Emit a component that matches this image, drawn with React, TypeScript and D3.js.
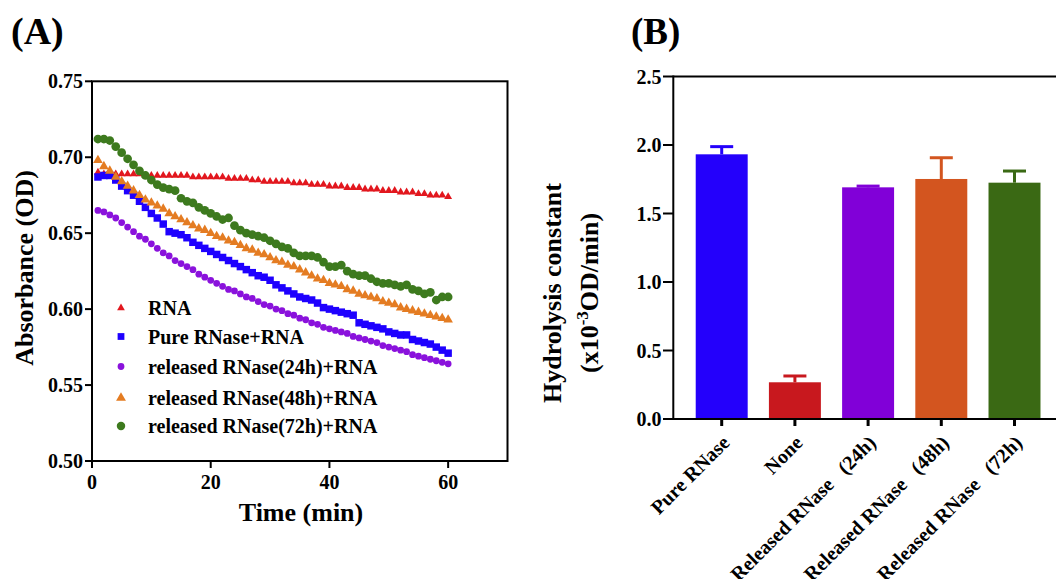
import React from "react";
import * as d3 from "d3";

// ---------- Panel A data ----------
const times = [1,2,3,4,5,6,7,8,9,10,11,12,13,14,15,16,17,18,19,20,21,22,23,24,25,26,27,28,29,30,31,32,33,34,35,36,37,38,39,40,41,42,43,44,45,46,47,48,49,50,51,52,53,54,55,56,57,58,59,60];
const rnaOnly = [0.690,0.689,0.689,0.689,0.689,0.689,0.689,0.689,0.688,0.688,0.688,0.688,0.688,0.688,0.688,0.688,0.687,0.687,0.687,0.687,0.687,0.687,0.686,0.686,0.686,0.686,0.685,0.685,0.684,0.684,0.684,0.684,0.684,0.683,0.683,0.683,0.682,0.682,0.682,0.681,0.681,0.681,0.680,0.680,0.680,0.679,0.679,0.679,0.678,0.678,0.678,0.677,0.677,0.677,0.676,0.676,0.675,0.675,0.675,0.674];
const pureRNase = [0.687,0.688,0.688,0.685,0.681,0.678,0.675,0.671,0.667,0.663,0.660,0.656,0.651,0.650,0.649,0.647,0.644,0.642,0.640,0.638,0.636,0.634,0.632,0.630,0.628,0.626,0.624,0.622,0.621,0.619,0.616,0.614,0.612,0.610,0.608,0.607,0.606,0.604,0.601,0.600,0.599,0.598,0.597,0.596,0.591,0.590,0.589,0.588,0.587,0.585,0.584,0.583,0.583,0.580,0.579,0.578,0.577,0.575,0.573,0.571];
const rel24 = [0.665,0.664,0.662,0.660,0.657,0.654,0.651,0.648,0.646,0.643,0.640,0.637,0.635,0.632,0.630,0.628,0.626,0.623,0.621,0.619,0.617,0.615,0.613,0.612,0.610,0.608,0.607,0.605,0.603,0.602,0.600,0.599,0.597,0.596,0.594,0.593,0.591,0.590,0.588,0.587,0.586,0.585,0.584,0.582,0.581,0.580,0.579,0.578,0.576,0.575,0.574,0.573,0.572,0.570,0.569,0.568,0.567,0.566,0.565,0.564];
const rel48 = [0.698,0.694,0.691,0.687,0.684,0.681,0.678,0.675,0.672,0.670,0.668,0.666,0.663,0.661,0.659,0.657,0.655,0.653,0.652,0.650,0.648,0.647,0.645,0.644,0.642,0.640,0.639,0.637,0.636,0.634,0.632,0.631,0.629,0.628,0.626,0.624,0.622,0.620,0.619,0.617,0.616,0.615,0.613,0.612,0.610,0.609,0.608,0.607,0.605,0.604,0.603,0.601,0.600,0.599,0.598,0.597,0.596,0.595,0.594,0.593];
const rel72 = [0.712,0.712,0.711,0.707,0.703,0.699,0.695,0.691,0.688,0.685,0.682,0.680,0.679,0.678,0.673,0.671,0.670,0.667,0.665,0.663,0.661,0.659,0.660,0.655,0.652,0.650,0.649,0.648,0.647,0.645,0.643,0.641,0.640,0.637,0.635,0.635,0.635,0.634,0.631,0.628,0.628,0.629,0.625,0.623,0.622,0.622,0.620,0.618,0.617,0.617,0.616,0.615,0.616,0.613,0.612,0.610,0.611,0.606,0.608,0.608];

const seriesNames = ["RNA", "Pure RNase+RNA", "released RNase(24h)+RNA", "released RNase(48h)+RNA", "released RNase(72h)+RNA"];
const xTicksA = [0, 20, 40, 60];
const yTicksA = [0.50, 0.55, 0.60, 0.65, 0.70, 0.75];

// ---------- Panel B data ----------
const categoriesB = ["Pure RNase", "None", "Released RNase\u00a0\u00a0\u00a0(24h)", "Released RNase\u00a0\u00a0\u00a0(48h)", "Released RNase\u00a0\u00a0\u00a0(72h)"];
const meansB = [1.932, 0.268, 1.691, 1.752, 1.725];
const errorsB = [0.056, 0.046, 0.009, 0.155, 0.085];
const yTicksB = [0.0, 0.5, 1.0, 1.5, 2.0, 2.5];

const FONT = "'Liberation Serif', 'Times New Roman', serif";

export default function App() {
  // Panel A scales
  const xA = d3.scaleLinear().domain([0, 70]).range([92, 507.5]);
  const yA = d3.scaleLinear().domain([0.5, 0.75]).range([461, 81.3]);

  const series = [
    { name: seriesNames[0], values: rnaOnly, color: "#E2171E", shape: d3.symbolTriangle, size: 27, lsize: 26 },
    { name: seriesNames[1], values: pureRNase, color: "#1E00FF", shape: d3.symbolSquare, size: 56, lsize: 46 },
    { name: seriesNames[2], values: rel24, color: "#8A12DC", shape: d3.symbolCircle, size: 36, lsize: 36 },
    { name: seriesNames[3], values: rel48, color: "#E47C22", shape: d3.symbolTriangle, size: 40, lsize: 42 },
    { name: seriesNames[4], values: rel72, color: "#3D7A1E", shape: d3.symbolCircle, size: 60, lsize: 56 },
  ];

  // Panel B scales
  const xB = d3.scaleBand<string>().domain(categoriesB).range([685.1, 1051.1]).padding(0);
  const yB = d3.scaleLinear().domain([0, 2.5]).range([419, 76.5]);
  const colorsB = ["#2400FB", "#C8181E", "#8100D8", "#D3551F", "#3A6914"];
  const barW = xB.bandwidth() * 0.71;

  return (
    <svg width={1056} height={579} style={{ position: "absolute", left: 0, top: 0, background: "#fff" }} fontFamily={FONT} fontWeight="bold">
      {/* Panel labels */}
      <text x={11} y={44} fontSize={38}>(A)</text>
      <text x={631} y={44} fontSize={37}>(B)</text>

      {/* ---------- Panel A ---------- */}
      <g>
        {series.map((s, si) => (
          <g key={si} fill={s.color}>
            {s.values.map((v, i) => (
              <path key={i} d={d3.symbol().type(s.shape).size(s.size)() || ""} transform={`translate(${xA(times[i])},${yA(v)})`} />
            ))}
          </g>
        ))}
        <rect x={92} y={81.3} width={415.5} height={379.7} fill="none" stroke="#000" strokeWidth={2} />
        {yTicksA.map((t) => (
          <g key={t}>
            <line x1={85} x2={92} y1={yA(t)} y2={yA(t)} stroke="#000" strokeWidth={2} />
            <text x={83} y={yA(t)} dy="0.35em" textAnchor="end" fontSize={20}>{t.toFixed(2)}</text>
          </g>
        ))}
        {xTicksA.map((t) => (
          <g key={t}>
            <line x1={xA(t)} x2={xA(t)} y1={461} y2={468} stroke="#000" strokeWidth={2} />
            <text x={xA(t)} y={489} textAnchor="middle" fontSize={20}>{t}</text>
          </g>
        ))}
        <text x={301} y={521} textAnchor="middle" fontSize={26}>Time (min)</text>
        <text transform="translate(33,268) rotate(-90)" textAnchor="middle" fontSize={26}>Absorbance (OD)</text>
        {/* legend */}
        {series.map((s, si) => {
          const ly = [308, 336.5, 366.5, 398, 426][si];
          return (
            <g key={si}>
              <path d={d3.symbol().type(s.shape).size(s.lsize)() || ""} transform={`translate(121,${ly})`} fill={s.color} />
              <text x={148} y={ly} dy="0.35em" fontSize={20}>{s.name}</text>
            </g>
          );
        })}
      </g>

      {/* ---------- Panel B ---------- */}
      <g>
        {categoriesB.map((c, i) => {
          const cx = (xB(c) as number) + xB.bandwidth() / 2;
          const top = yB(meansB[i]);
          const et = yB(meansB[i] + errorsB[i]);
          return (
            <g key={c}>
              <rect x={cx - barW / 2} y={top} width={barW} height={yB(0) - top} fill={colorsB[i]} />
              <line x1={cx} x2={cx} y1={top} y2={et} stroke={colorsB[i]} strokeWidth={3} />
              <line x1={cx - 11.5} x2={cx + 11.5} y1={et} y2={et} stroke={colorsB[i]} strokeWidth={3} />
              <line x1={cx} x2={cx} y1={419} y2={426} stroke="#000" strokeWidth={3} />
              <text transform={`translate(${cx + 9},${444}) rotate(-45)`} textAnchor="end" fontSize={20}>{c}</text>
            </g>
          );
        })}
        <line x1={673.3} x2={1070} y1={76.5} y2={76.5} stroke="#000" strokeWidth={2} />
        <line x1={673.3} x2={1070} y1={419} y2={419} stroke="#000" strokeWidth={2} />
        <line x1={673.3} x2={673.3} y1={75.5} y2={420} stroke="#000" strokeWidth={2} />
        {yTicksB.map((t) => (
          <g key={t}>
            <line x1={663} x2={673.3} y1={yB(t)} y2={yB(t)} stroke="#000" strokeWidth={2} />
            <text x={661.5} y={yB(t)} dy="0.35em" textAnchor="end" fontSize={20}>{t.toFixed(1)}</text>
          </g>
        ))}
        <text transform="translate(561,293) rotate(-90)" textAnchor="middle" fontSize={26}>Hydrolysis constant</text>
        <text transform="translate(598,293) rotate(-90)" textAnchor="middle" fontSize={26}>
          (x10<tspan dy={-10} fontSize={17}>-3</tspan><tspan dy={10}>OD/min)</tspan>
        </text>
      </g>
    </svg>
  );
}
